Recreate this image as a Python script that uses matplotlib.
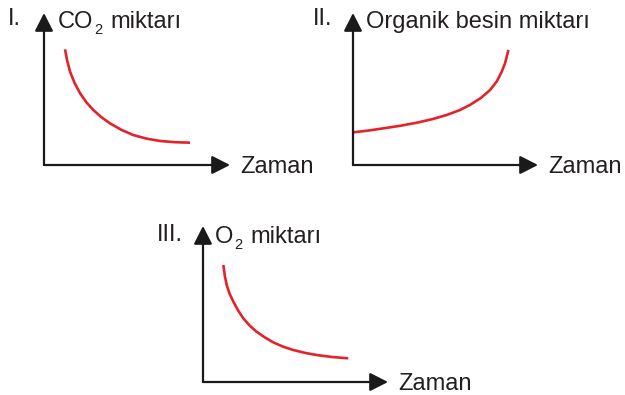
import matplotlib.pyplot as plt

plt.rcParams['font.family'] = ['Liberation Sans', 'DejaVu Sans']

W, H = 625, 395

# curve points (time, amount), axes scaled 0..10
co2_t = [1.13, 1.25, 1.40, 1.65, 1.94, 2.28, 2.65, 3.08, 3.55, 4.15, 4.80, 5.50, 6.24, 7.05, 7.85]
co2_v = [7.61, 6.85, 6.14, 5.38, 4.72, 4.12, 3.62, 3.15, 2.74, 2.32, 1.97, 1.74, 1.58, 1.50, 1.47]

org_t = [0.02, 0.80, 1.64, 2.55, 3.44, 4.30, 5.06, 5.75, 6.32, 6.90, 7.41, 7.78, 8.04, 8.22, 8.31, 8.40]
org_v = [2.15, 2.26, 2.41, 2.58, 2.78, 3.02, 3.29, 3.60, 3.95, 4.40, 4.93, 5.52, 6.14, 6.70, 7.13, 7.57]

o2_t = [1.10, 1.18, 1.28, 1.44, 1.64, 1.90, 2.18, 2.52, 2.90, 3.34, 3.80, 4.32, 4.88, 5.50, 6.14, 7.00, 7.85]
o2_v = [7.50, 6.80, 6.22, 5.65, 5.15, 4.58, 4.08, 3.62, 3.22, 2.86, 2.54, 2.27, 2.05, 1.87, 1.73, 1.60, 1.52]

# (left, right, bottom, top) in pixels, numeral, y label parts, x label, data
panels = [
    ((44, 230, 165, 13), "I.", ("CO", "2", "miktarı"), "Zaman", co2_t, co2_v),
    ((353, 538, 165, 13), "II.", ("Organik besin miktarı", "", ""), "Zaman", org_t, org_v),
    ((203, 388, 382, 226), "III.", ("O", "2", "miktarı"), "Zaman", o2_t, o2_v),
]
num_pos = [(8, 25), (313, 25), (157, 241)]
lab_pos = [(58, 28), (366, 28), (215, 243)]
zam_pos = [(240, 173), (548, 173), (398, 390)]

red = '#e42229'
ink = '#231f20'
fs = 17

fig = plt.figure(figsize=(W / 100, H / 100), dpi=100)
renderer = fig.canvas.get_renderer()


def fx(x):
    return x / W


def fy(y):
    return 1 - y / H


for i, (box, num, ylab, xlab, t, v) in enumerate(panels):
    l, r, b, tp = box
    ax = fig.add_axes([fx(l), fy(b), (r - l) / W, (b - tp) / H])
    ax.set_xlim(0, 10)
    ax.set_ylim(0, 10)
    ax.axis('off')
    ax.plot(t, v, color=red, lw=1.9, solid_capstyle='butt')
    arrow = dict(arrowstyle='-|>,head_length=0.55,head_width=0.28', color='#1a1a1a',
                 lw=1.6, mutation_scale=20, shrinkA=0, shrinkB=0)
    ax.annotate('', xy=(0, 1), xytext=(0, 0), xycoords='axes fraction',
                arrowprops=arrow, annotation_clip=False)
    ax.annotate('', xy=(1, 0), xytext=(0, 0), xycoords='axes fraction',
                arrowprops=arrow, annotation_clip=False)

    fig.text(fx(num_pos[i][0]), fy(num_pos[i][1]), num, fontsize=fs, color=ink)

    # y label with a lowered subscript
    x0, y0 = lab_pos[i]
    main, sub, rest = ylab
    t1 = fig.text(fx(x0), fy(y0), main, fontsize=fs, color=ink)
    if sub:
        w1 = t1.get_window_extent(renderer).width
        sx = x0 + w1 + 1
        t2 = fig.text(fx(sx), fy(y0 + 6), sub, fontsize=10.5, color=ink)
        w2 = t2.get_window_extent(renderer).width
        fig.text(fx(sx + w2 + 8), fy(y0), rest, fontsize=fs, color=ink)

    fig.text(fx(zam_pos[i][0]), fy(zam_pos[i][1]), xlab, fontsize=fs, color=ink)

fig.savefig('out.png', dpi=100)
